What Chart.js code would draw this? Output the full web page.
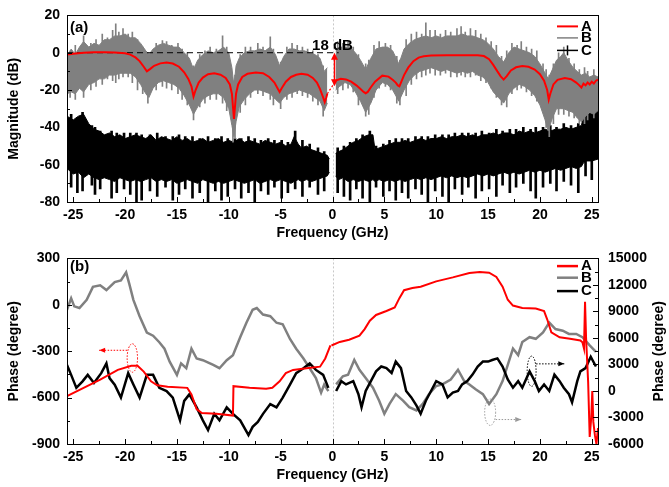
<!DOCTYPE html>
<html>
<head>
<meta charset="utf-8">
<script src="https://cdn.jsdelivr.net/npm/chart.js@4.4.1/dist/chart.umd.min.js"></script>
<style>
html, body { margin: 0; padding: 0; background: #fff; }
#wrap { position: relative; width: 669px; height: 487px; overflow: hidden; }
#c1 { position: absolute; left: 0; top: 0; }
#c2 { position: absolute; left: 0; top: 240px; }
</style>
</head>
<body>
<div id="wrap">
<canvas id="c1" width="669" height="245"></canvas>
<canvas id="c2" width="669" height="247"></canvas>
</div>
<script>
// ---- panel (a): magnitude ----
var magRedLF = [-25.6,-25,-24,-23,-22,-21,-20,-19.5,-19,-18.6,-18.2,-17.9,-17.6,-17.2,-16.6,-16,-15.4,-14.8,-14.3,-13.9,-13.6,-13.4,-13.2,-12.9,-12.5,-12,-11.4,-10.8,-10.3,-9.9,-9.7,-9.5,-9.3,-9.1,-8.7,-8.2,-7.4,-6.7,-6.1,-5.6,-5.3,-5.1,-4.9,-4.5,-4,-3.5,-3,-2.4,-1.9,-1.5,-1.2,-0.9,-0.75,-0.6,-0.5];
var magRedL = [-1,-0.5,0,0.2,0.2,0.1,-0.3,-1,-2.5,-4.5,-7.5,-10,-8.8,-7,-5.7,-5.2,-5.8,-7.5,-10.5,-14,-18,-23.5,-20,-16,-13.3,-11.5,-11,-11.8,-13.5,-17,-22,-35.5,-22,-17,-13,-11.3,-10.6,-11,-13,-16,-19,-21,-19,-15.5,-13,-11.8,-11.3,-11.8,-13.5,-16,-19.5,-24,-26.5,-24,-22];
var magRedRF = [0.35,0.8,1.3,1.8,2.3,2.7,3.0,3.2,3.4,3.7,4.1,4.8,5.4,5.8,6.1,6.3,6.45,6.6,6.9,7.3,7.8,8.3,8.8,9.5,11,12.5,14,14.6,15.1,15.5,15.9,16.2,16.5,16.8,17.2,17.7,18.3,18.9,19.5,20.0,20.4,20.7,20.85,21.0,21.3,21.7,22.4,23.0,23.5,23.8,24.0,24.2,24.4,24.6,24.8,25.0,25.2,25.4,25.6];
var magRedR = [-14.8,-14,-14.3,-15.5,-17.5,-19.5,-21,-21.7,-21,-18.5,-15.5,-12.3,-12.8,-14.5,-16,-17.5,-18,-16,-12,-8,-4.5,-2.6,-1.9,-1.5,-1.3,-1.3,-1.3,-1.8,-3.5,-6.5,-10,-12.5,-14.4,-12.5,-9.5,-7.8,-7.1,-7.5,-9,-11.5,-15,-20,-25.2,-22,-17,-14.5,-13.5,-14.2,-16,-17.5,-18.7,-16.5,-17.5,-16,-17,-15.5,-16.5,-15,-14.5];
var magRedGapF = [-0.5, 0.35];
var magRedGap = [-22, -14.8];

// B: dense core of the noise (upper / lower edge) ...
var magGrayLF = [-25.6,-25.2,-24.8,-24.4,-24.0,-23.5,-23.0,-22.5,-22.0,-21.5,-21.0,-20.5,-20.0,-19.5,-19.0,-18.5,-18.0,-17.7,-17.3,-16.8,-16.3,-15.8,-15.3,-14.8,-14.3,-13.8,-13.4,-13.0,-12.5,-12.0,-11.5,-11.0,-10.5,-10.0,-9.7,-9.5,-9.3,-9.0,-8.5,-8.0,-7.5,-7.0,-6.5,-6.0,-5.5,-5.1,-4.7,-4.2,-3.7,-3.2,-2.7,-2.2,-1.7,-1.2,-0.8,-0.5];
var magGrayLUp = [-3,2,-1,3,6,3,5,4,7,7,9,9,10,8,8,5,1,-1,2,4,5,4,3,3,0,-3,-9,-4,-1,1,0,1,3,0,-8,-18,-7,-3,0,1,1,2,1,3,-1,-7,-2,2,2,1,1,0,-1,-3,-10,-8];
var magGrayLLo = [-22,-21,-22,-19,-21,-17,-16,-14,-14,-12,-12,-11,-11,-11,-13,-17,-22,-24,-19,-16,-15,-16,-17,-19,-23,-28,-33,-29,-25,-23,-22,-22,-24,-30,-39,-45,-37,-29,-25,-22,-20,-20,-21,-22,-25,-27,-24,-22,-21,-20,-21,-22,-24,-26,-31,-27];
var magGrayRF = [0.3,0.7,1.2,1.7,2.2,2.7,3.2,3.7,4.2,4.8,5.3,5.8,6.4,6.9,7.4,7.9,8.4,9.0,9.5,10.0,10.5,11.0,11.5,12.0,12.5,13.0,13.5,14.0,14.5,15.0,15.5,16.0,16.5,17.0,17.5,18.0,18.5,19.0,19.5,20.0,20.5,20.8,21.2,21.6,22.0,22.3,22.7,23.2,23.6,24.0,24.4,24.8,25.2,25.6];
var magGrayRUp = [2,3,3,3,0,-4,-9,-3,2,3,3,1,-6,2,5,7,8,9,8,9,8,9,9,9,10,9,9,8,7,5,2,-2,-5,0,3,2,1,0,-2,-6,-11,-14,-9,-4,-2,0,-4,-8,-10,-12,-11,-13,-12,-13];
var magGrayRLo = [-20,-18,-16,-17,-21,-26,-32,-27,-20,-16,-17,-20,-26,-20,-15,-12,-10,-9,-8,-9,-10,-9,-10,-11,-10,-11,-10,-12,-13,-16,-21,-24,-27,-22,-19,-17,-18,-20,-23,-28,-36,-42,-35,-30,-30,-30,-31,-32,-35,-37,-34,-32,-33,-31];
// ... and its spikes (full extent at single frequencies)
var graySpikeF = [-25.3,-24.8,-24.0,-23.3,-22.8,-22.2,-21.7,-21.2,-20.9,-20.6,-20.2,-19.7,-19.3,-18.8,-18.3,-17.8,-17.0,-16.4,-16.0,-15.5,-14.9,-14.5,-14.0,-13.4,-12.8,-12.3,-11.8,-11.2,-10.6,-10.2,-9.6,-9.4,-8.9,-8.4,-7.9,-7.2,-6.7,-6.0,-5.7,-5.0,-4.4,-3.9,-3.4,-2.9,-2.4,-1.9,-1.4,-0.9,
  0.5,1.0,1.5,2.0,2.5,3.2,3.5,4.0,4.5,5.1,5.6,6.2,6.5,7.1,7.6,8.1,8.6,9.0,9.4,9.9,10.4,10.9,11.4,12.0,12.4,12.8,13.3,13.8,14.3,14.8,15.3,15.8,16.3,16.8,17.3,17.8,18.2,18.7,19.2,19.7,20.3,20.6,20.9,21.3,21.8,22.3,22.8,23.3,23.8,24.3,24.6,25.2];
var graySpikeHi = [1,4,9,5,7,10,8,12,15.5,11,13,10,11,7,3,0,5,6.5,6,4,5,2,0,-7,-1,1,3,2,9,3,-15,-12,-1,3,3,5,3,8.5,2,-5,3,5,4,3,2,1,-1,-7,
  6,5,6,3,-1,-6,-4,4,6,5,4,-2,-4,7,10,11,10,16,12,12,10,12,11,13,14,11,13,12,10,8,6,4,-2,1,5,4,6,3,2,1,-6,-9,-12,-6,0,3,-3,-6,-9,-8,-10,-9];
var graySpikeLo = [-24,-25,-24,-20,-18,-17,-14,-15,-16,-14,-13,-13,-16,-20,-22,-27,-20,-18,-19,-20,-22,-25,-28,-36,-29,-27,-25,-25,-27,-31,-48,-46,-32,-28,-24,-22,-23,-25,-28,-30,-25,-24,-22,-23,-24,-26,-28,-34,
  -22,-20,-19,-21,-28,-34,-33,-24,-19,-18,-20,-27,-28,-23,-17,-14,-13,-12,-11,-12,-12,-11,-13,-13,-12,-13,-13,-12,-15,-16,-19,-24,-28,-29,-22,-20,-19,-21,-23,-26,-31,-40,-45,-38,-33,-33,-34,-35,-38,-38,-36,-35];

// C: dense core ...
var magBlackLF = [-25.6,-25.0,-24.5,-24.0,-23.5,-23.0,-22.5,-22.0,-21.5,-21.0,-20.5,-20.0,-19.5,-19.0,-18.5,-18.0,-17.5,-17.0,-16.5,-16.0,-15.5,-15.0,-14.5,-14.0,-13.5,-13.0,-12.5,-12.0,-11.5,-11.0,-10.5,-10.0,-9.5,-9.0,-8.5,-8.0,-7.5,-7.0,-6.5,-6.0,-5.5,-5.0,-4.5,-4.0,-3.7,-3.3,-3.0,-2.5,-2.0,-1.5,-1.0,-0.5,-0.3];
var magBlackLUp = [-34,-36,-34,-33,-38,-41,-42,-44,-43,-45,-44,-46,-45,-44,-45,-46,-44,-47,-45,-46,-47,-45,-47,-46,-48,-47,-46,-48,-47,-46,-48,-47,-48,-46,-48,-47,-48,-49,-47,-48,-49,-48,-50,-49,-45,-49,-51,-50,-52,-53,-54,-55,-57];
var magBlackLLo = [-62,-65,-64,-67,-65,-67,-68,-67,-68,-69,-67,-68,-69,-68,-69,-68,-67,-69,-68,-69,-68,-70,-69,-68,-69,-70,-68,-69,-70,-69,-70,-69,-68,-69,-70,-69,-68,-70,-69,-68,-69,-68,-69,-70,-69,-68,-69,-68,-69,-68,-67,-66,-64];
var magBlackRF = [0.3,0.6,1.0,1.5,2.0,2.5,3.0,3.5,3.9,4.1,4.5,5.0,5.5,6.0,6.5,7.0,7.5,8.0,8.5,9.0,9.5,10.0,10.5,11.0,11.5,12.0,12.5,13.0,13.5,14.0,14.5,15.0,15.5,16.0,16.5,17.0,17.5,18.0,18.5,19.0,19.5,20.0,20.5,21.0,21.5,22.0,22.5,23.0,23.5,24.0,24.2,24.5,25.0,25.6];
var magBlackRUp = [-54,-53,-52,-50,-48,-47,-45,-44,-44,-52,-51,-50,-49,-48,-48,-47,-48,-47,-46,-47,-46,-46,-45,-46,-45,-45,-44,-45,-44,-45,-44,-44,-43,-44,-43,-43,-44,-42,-43,-42,-43,-42,-41,-42,-41,-41,-40,-41,-40,-39,-34,-33,-32,-31];
var magBlackRLo = [-66,-68,-67,-69,-68,-69,-68,-69,-68,-69,-68,-69,-68,-69,-68,-69,-68,-67,-68,-67,-68,-67,-66,-67,-66,-67,-66,-67,-66,-65,-66,-65,-66,-65,-64,-65,-64,-65,-64,-63,-64,-63,-64,-63,-62,-63,-62,-61,-62,-61,-59,-58,-58,-57];
// ... and its spikes
var blackSpikeF = [-25.2,-24.6,-24.1,-23.2,-22.9,-22.4,-21.3,-20.8,-20.1,-19.5,-18.9,-18.4,-17.6,-16.9,-16.1,-15.4,-14.8,-14.2,-13.5,-12.8,-12.0,-11.3,-10.7,-10.1,-9.4,-8.8,-8.1,-7.5,-6.9,-6.2,-5.6,-4.9,-4.3,-3.6,-2.9,-2.2,-1.4,-0.8,
  0.5,1.1,1.7,2.3,2.9,3.6,4.2,4.9,5.5,6.1,6.7,7.3,8.0,8.6,9.2,9.9,10.6,11.2,11.8,12.5,13.1,13.8,14.4,15.1,15.8,16.4,17.1,17.7,18.4,19.1,19.6,20.3,21.0,21.6,22.3,23.0,23.7,24.4,25.0];
var blackSpikeLo = [-72,-75,-74,-71,-76,-73,-78,-75,-73,-76,-80,-79,-74,-77,-72,-79,-76,-73,-78,-75,-80,-74,-79,-77,-73,-78,-75,-80,-74,-76,-72,-78,-75,-73,-77,-72,-76,-74,
  -75,-77,-79,-73,-78,-80,-72,-77,-74,-79,-75,-78,-73,-76,-80,-74,-77,-80,-73,-76,-72,-78,-74,-73,-77,-71,-75,-72,-70,-74,-78,-72,-70,-74,-69,-71,-75,-66,-68];
var blackSpikeHi = [-33,-35,-32,-39,-40,-42,-42,-43,-43,-43,-43,-44,-44,-43,-45,-45,-44,-45,-45,-46,-45,-46,-45,-46,-46,-46,-45,-46,-47,-46,-47,-47,-48,-42,-47,-49,-51,-53,
  -51,-50,-48,-46,-44,-42,-50,-49,-47,-46,-46,-46,-45,-45,-45,-44,-44,-44,-43,-43,-43,-43,-42,-43,-41,-42,-41,-41,-40,-41,-40,-40,-39,-40,-38,-39,-38,-32,-30];

var refLineF = [-25.6, 0.6];
var refLine = [0, 0];

// ---- panel (b): phase ----
// negative frequencies use the left axis, positive ones the right axis
var phaseALF = [-25.6,-24.0,-22.4,-20.7,-19.4,-18.8,-18.2,-17.5,-16.9,-15.9,-14.0,-13.6,-13.1,-12.6,-11.2,-9.6,-9.55,-8.0,-6.4,-5.8,-5.1,-4.5,-3.8,-2.5,-1.2,-0.7,-0.2];
var phaseAL = [-590,-537,-484,-421,-394,-394,-432,-495,-520,-530,-537,-579,-674,-700,-705,-716,-526,-537,-543,-537,-495,-442,-421,-410,-400,-347,-263];
var phaseARF = [-0.1,0.7,1.6,2.6,3.1,3.6,4.2,5.2,6.0,6.45,6.9,7.7,8.5,10.0,11.6,13.2,14.2,15.1,15.8,16.4,16.9,17.4,18.3,19.6,20.4,20.7,21.1,21.9,22.9,23.9,24.1,24.25,24.35,24.45,24.55,24.65,24.8,24.95,25.05,25.15,25.3,25.45,25.6];
var phaseAR = [5150,5550,5800,6250,7000,7950,8600,9050,9450,10500,11400,11650,11800,12400,12850,13350,13450,13380,12900,11800,10320,9660,9400,9330,9030,8110,6640,6080,5900,5716,5500,4800,10100,6000,3500,1000,-5200,-3000,0,-3500,-5000,-6000,-4200];

var phaseBLF = [-25.6,-25.2,-24.9,-24.4,-23.7,-23.1,-22.4,-21.8,-21.0,-20.4,-19.9,-19.6,-19.2,-18.6,-17.9,-17.3,-16.7,-16.2,-15.7,-15.0,-14.6,-14.1,-13.6,-13.1,-12.5,-11.5,-10.9,-10.2,-9.6,-8.9,-8.3,-7.7,-7.3,-6.7,-6.0,-5.4,-4.8,-4.1,-3.5,-2.8,-2.2,-1.6,-1.1,-0.8,-0.4];
var phaseBL = [-32,42,-10,-21,32,116,126,95,147,158,210,137,32,-74,-179,-200,-242,-284,-368,-453,-379,-410,-284,-347,-358,-389,-410,-358,-326,-210,-116,-32,-21,-63,-74,-116,-126,-221,-284,-347,-410,-474,-568,-516,-558];
var phaseBRF = [0.35,1.0,1.5,2.1,2.6,3.2,3.9,4.5,5.0,5.5,6.1,6.8,7.4,8.1,8.7,9.3,10.0,10.6,11.4,12.1,12.7,13.2,13.8,14.5,15.1,15.8,16.4,16.9,17.4,17.9,18.3,19.0,19.6,20.3,20.9,21.5,22.2,22.8,23.5,24.1,24.8,25.4];
var phaseBR = [743,1664,1848,3506,2400,1480,375,-1100,-2573,-1468,-363,-1100,-1836,-2204,-1468,-363,558,743,1295,2400,1111,743,190,-363,-1468,-363,1111,2953,4795,4058,5532,6085,5900,6637,7743,7006,6822,6453,6453,6085,5164,4427];

var phaseCLF = [-25.6,-25.2,-24.7,-24.1,-23.6,-23.0,-22.3,-21.8,-21.5,-21.0,-20.4,-19.7,-19.2,-18.6,-17.9,-17.3,-16.7,-16.0,-15.4,-14.7,-14.3,-13.8,-13.1,-12.5,-12.0,-11.4,-10.9,-10.2,-9.6,-8.9,-8.1,-7.7,-7.2,-6.7,-6.0,-5.4,-4.8,-4.1,-3.5,-2.8,-2.2,-1.6,-0.9,-0.4];
var phaseCL = [-389,-453,-537,-495,-453,-505,-442,-379,-474,-516,-600,-442,-516,-600,-453,-453,-537,-558,-600,-747,-621,-579,-663,-747,-810,-705,-747,-663,-705,-747,-842,-789,-758,-705,-642,-663,-600,-516,-442,-410,-379,-421,-453,-537];
var phaseCRF = [0.35,0.85,1.3,2.0,2.5,2.8,3.2,3.7,4.2,4.7,5.2,5.7,6.1,6.6,7.1,7.6,8.1,8.5,9.0,9.5,10.0,10.6,11.1,11.6,12.1,12.5,13.0,13.5,14.0,14.5,15.0,15.4,15.9,16.4,16.9,17.4,17.9,18.3,19.0,19.5,19.9,20.4,20.9,21.4,21.9,22.3,22.8,23.1,23.6,23.9,24.4,24.9,25.4];
var phaseCR = [0,1111,743,1111,-363,-1836,0,1111,2216,2769,2585,2032,3322,2585,0,-731,-1652,-2573,-1100,0,1111,743,-731,-178,0,743,1111,1848,2769,3322,3322,3506,3690,2769,1295,375,1111,375,2216,1111,0,743,0,1848,1111,375,-363,-1284,1111,2216,2585,3875,2769];

var seriesNames = ['A', 'B', 'C'];
var seriesColors = ['#ff0000', '#808080', '#000000'];

Chart.defaults.font.family = "'Liberation Sans', Arial, sans-serif";
Chart.defaults.font.size = 14;
Chart.defaults.font.weight = 'bold';
Chart.defaults.color = '#000';

function pts(xs, ys) {
  return xs.map(function(x, i) { return {x: x, y: ys[i]}; });
}

function line(xs, ys, color, width, order, extra) {
  var d = {data: pts(xs, ys), borderColor: color, backgroundColor: color, borderWidth: width,
           pointRadius: 0, tension: 0, fill: false, order: order};
  for (var k in extra) d[k] = extra[k];
  return d;
}

// noise spikes as thin floating bars
function spikes(xs, lo, hi, color, order, thick) {
  return {
    type: 'bar', grouped: false, barThickness: thick, order: order,
    backgroundColor: color, borderWidth: 0,
    data: xs.map(function(x, i) { return {x: x, y: [lo[i], hi[i]]}; })
  };
}

function freqAxis() {
  return {
    type: 'linear', min: -25.6, max: 25.6, offset: false,
    ticks: {stepSize: 5, includeBounds: false, padding: 5, callback: function(v) { return String(v); }},
    grid: {display: false, drawTicks: false, offset: false},
    border: {display: false},
    title: {display: true, text: 'Frequency (GHz)', padding: 0},
    afterFit: function(s) { s.height = 40; }
  };
}

function valueAxis(min, max, step, pos, width, title) {
  return {
    type: 'linear', position: pos, min: min, max: max, beginAtZero: false,
    ticks: {stepSize: step, padding: pos === 'left' ? 7 : 10, callback: function(v) { return String(v); }},
    grid: {display: false, drawTicks: false},
    border: {display: false},
    title: {display: !!title, text: title || '', padding: {top: 6, bottom: 0}},
    afterFit: function(s) { s.width = width; }
  };
}

// frame + small inward tick marks
var framePlugin = {
  id: 'frame',
  afterDraw: function(chart) {
    var ctx = chart.ctx, a = chart.chartArea;
    ctx.save();
    ctx.strokeStyle = '#000';
    ctx.lineWidth = 1;
    ctx.strokeRect(Math.round(a.left) + 0.5, Math.round(a.top) + 0.5, Math.round(a.right - a.left), Math.round(a.bottom - a.top));
    ctx.beginPath();
    Object.keys(chart.scales).forEach(function(id) {
      var s = chart.scales[id];
      var vals = s.ticks.map(function(t) { return t.value; });
      var step = vals.length > 1 ? vals[1] - vals[0] : 0;
      vals.forEach(function(v) {
        [v, v + step / 2].forEach(function(tv, j) {
          if (tv < s.min || tv > s.max) return;
          var len = j === 0 ? 5 : 3;
          var p = Math.round(s.getPixelForValue(tv)) + 0.5;
          if (id === 'x') { ctx.moveTo(p, a.bottom); ctx.lineTo(p, a.bottom - len); }
          else if (s.position === 'left') { ctx.moveTo(a.left, p); ctx.lineTo(a.left + len, p); }
          else { ctx.moveTo(a.right, p); ctx.lineTo(a.right - len, p); }
        });
      });
    });
    ctx.stroke();
    ctx.restore();
  }
};

function zeroLine(chart) {
  var ctx = chart.ctx, a = chart.chartArea;
  var x0 = Math.round(chart.scales.x.getPixelForValue(0)) + 0.5;
  ctx.save();
  ctx.strokeStyle = '#c8c8c8';
  ctx.lineWidth = 1;
  ctx.setLineDash([2, 2]);
  ctx.beginPath();
  ctx.moveTo(x0, a.top);
  ctx.lineTo(x0, a.bottom);
  ctx.stroke();
  ctx.restore();
}

function arrowHead(ctx, x, y, dir, len, half) {
  ctx.beginPath();
  if (dir === 'up') { ctx.moveTo(x, y); ctx.lineTo(x - half, y + len); ctx.lineTo(x + half, y + len); }
  if (dir === 'down') { ctx.moveTo(x, y); ctx.lineTo(x - half, y - len); ctx.lineTo(x + half, y - len); }
  if (dir === 'left') { ctx.moveTo(x, y); ctx.lineTo(x + len, y - half); ctx.lineTo(x + len, y + half); }
  if (dir === 'right') { ctx.moveTo(x, y); ctx.lineTo(x - len, y - half); ctx.lineTo(x - len, y + half); }
  ctx.closePath();
  ctx.fill();
}

function drawLegend(ctx, a, rows) {
  ctx.save();
  ctx.font = "bold 15px 'Liberation Sans', Arial, sans-serif";
  ctx.textBaseline = 'middle';
  ctx.textAlign = 'left';
  rows.forEach(function(r, i) {
    var y = a.top + r.dy;
    ctx.strokeStyle = seriesColors[i];
    ctx.lineWidth = r.w;
    ctx.beginPath();
    ctx.moveTo(a.right - 41, y);
    ctx.lineTo(a.right - 20, y);
    ctx.stroke();
    if (r.bar) {
      ctx.lineWidth = 1.5;
      ctx.beginPath();
      ctx.moveTo(a.right - 30.5, y - 5);
      ctx.lineTo(a.right - 30.5, y + 5);
      ctx.stroke();
    }
    ctx.fillStyle = '#000';
    ctx.fillText(seriesNames[i], a.right - 17, y);
  });
  ctx.restore();
}

var annotA = {
  id: 'annotA',
  beforeDatasetsDraw: function(chart) { zeroLine(chart); },
  afterDraw: function(chart) {
    var ctx = chart.ctx, a = chart.chartArea, x = chart.scales.x, y = chart.scales.y;
    ctx.save();
    ctx.fillStyle = '#000';
    ctx.font = "bold 15px 'Liberation Sans', Arial, sans-serif";
    ctx.textBaseline = 'middle';
    ctx.textAlign = 'left';
    ctx.fillText('(a)', a.left + 3, a.top + 12);
    ctx.textAlign = 'center';
    ctx.fillText('18 dB', x.getPixelForValue(0), y.getPixelForValue(3.6));
    // double arrow 0 dB -> -18 dB
    var ax = Math.round(x.getPixelForValue(0.1)) + 0.5;
    var yt = y.getPixelForValue(0), yb = y.getPixelForValue(-18);
    ctx.strokeStyle = '#ff0000';
    ctx.fillStyle = '#ff0000';
    ctx.lineWidth = 1.5;
    ctx.beginPath();
    ctx.moveTo(ax, yt + 4);
    ctx.lineTo(ax, yb - 4);
    ctx.stroke();
    arrowHead(ctx, ax, yt, 'up', 7, 3.5);
    arrowHead(ctx, ax, yb, 'down', 7, 3.5);
    ctx.restore();
    drawLegend(ctx, a, [{dy: 11, w: 2}, {dy: 22.5, w: 1.5}, {dy: 35, w: 1.5, bar: true}]);
  }
};

function ellipseMark(ctx, xs, ys, cx, cy, rx, ry, ax0, ax1, ay, color, dir) {
  var px = xs.getPixelForValue(cx), py = ys.getPixelForValue(cy);
  var prx = Math.abs(xs.getPixelForValue(cx + rx) - px);
  var pry = Math.abs(ys.getPixelForValue(cy + ry) - py);
  var y0 = ys.getPixelForValue(ay);
  var x0 = xs.getPixelForValue(ax0), x1 = xs.getPixelForValue(ax1);
  ctx.save();
  ctx.strokeStyle = color;
  ctx.fillStyle = color;
  ctx.lineWidth = 1;
  ctx.setLineDash([1.5, 1.5]);
  ctx.beginPath();
  ctx.ellipse(px, py, prx, pry, 0, 0, Math.PI * 2);
  ctx.stroke();
  ctx.beginPath();
  ctx.moveTo(x0, y0);
  ctx.lineTo(x1, y0);
  ctx.stroke();
  ctx.setLineDash([]);
  arrowHead(ctx, x1, y0, dir, 6, 2.5);
  ctx.restore();
}

var annotB = {
  id: 'annotB',
  beforeDatasetsDraw: function(chart) { zeroLine(chart); },
  afterDraw: function(chart) {
    var ctx = chart.ctx, a = chart.chartArea, x = chart.scales.x, y = chart.scales.y, y1 = chart.scales.y1;
    ctx.save();
    ctx.fillStyle = '#000';
    ctx.font = "bold 15px 'Liberation Sans', Arial, sans-serif";
    ctx.textBaseline = 'middle';
    ctx.textAlign = 'left';
    ctx.fillText('(b)', a.left + 3, a.top + 8);
    // right axis title, read bottom to top like the left one
    ctx.font = "bold 14px 'Liberation Sans', Arial, sans-serif";
    ctx.textAlign = 'center';
    ctx.translate(659, (a.top + a.bottom) / 2);
    ctx.rotate(-Math.PI / 2);
    ctx.fillText('Phase (degree)', 0, 0);
    ctx.restore();
    ellipseMark(ctx, x, y, -19.3, -344, 0.5, 92, -19.8, -22.5, -294, '#ff0000', 'left');
    ellipseMark(ctx, x, y1, 19.2, 2237, 0.43, 1713, 19.63, 22.35, 3066, '#000000', 'right');
    ellipseMark(ctx, x, y1, 15.2, -2404, 0.53, 1490, 15.73, 18.2, -3232, '#999999', 'right');
    drawLegend(ctx, a, [{dy: 7.7, w: 2.5}, {dy: 19.3, w: 2.5}, {dy: 32.7, w: 2.5}]);
  }
};

new Chart(document.getElementById('c1'), {
  type: 'line',
  data: {
    datasets: [
      line(magRedLF, magRedL, '#ff0000', 2, 0),
      line(magRedRF, magRedR, '#ff0000', 2, 0),
      line(magRedGapF, magRedGap, '#ff0000', 1.2, 0, {borderDash: [2, 2]}),
      line(refLineF, refLine, '#000000', 1, 1, {borderDash: [6, 4]}),
      line(magGrayLF, magGrayLLo, '#808080', 1, 2),
      line(magGrayLF, magGrayLUp, '#808080', 1, 2, {fill: '-1'}),
      line(magGrayRF, magGrayRLo, '#808080', 1, 2),
      line(magGrayRF, magGrayRUp, '#808080', 1, 2, {fill: '-1'}),
      spikes(graySpikeF, graySpikeLo, graySpikeHi, '#808080', 2, 1),
      line(magBlackLF, magBlackLLo, '#000000', 1, 3),
      line(magBlackLF, magBlackLUp, '#000000', 1, 3, {fill: '-1'}),
      line(magBlackRF, magBlackRLo, '#000000', 1, 3),
      line(magBlackRF, magBlackRUp, '#000000', 1, 3, {fill: '-1'}),
      spikes(blackSpikeF, blackSpikeLo, blackSpikeHi, '#000000', 3, 2)
    ]
  },
  options: {
    responsive: false,
    animation: false,
    events: [],
    layout: {padding: {left: 0, right: 71, top: 10, bottom: 3}},
    plugins: {legend: {display: false}, tooltip: {enabled: false}},
    scales: {
      x: freqAxis(),
      y: valueAxis(-80, 20, 20, 'left', 67, 'Magnitude (dB)')
    }
  },
  plugins: [annotA, framePlugin]
});

new Chart(document.getElementById('c2'), {
  type: 'line',
  data: {
    datasets: [
      line(phaseALF, phaseAL, '#ff0000', 2, 0, {yAxisID: 'y'}),
      line(phaseARF, phaseAR, '#ff0000', 2, 0, {yAxisID: 'y1'}),
      line(phaseCLF, phaseCL, '#000000', 2.5, 1, {yAxisID: 'y'}),
      line(phaseCRF, phaseCR, '#000000', 2.5, 1, {yAxisID: 'y1'}),
      line(phaseBLF, phaseBL, '#808080', 2.5, 2, {yAxisID: 'y'}),
      line(phaseBRF, phaseBR, '#808080', 2.5, 2, {yAxisID: 'y1'})
    ]
  },
  options: {
    responsive: false,
    animation: false,
    events: [],
    layout: {padding: {left: 0, right: 0, top: 14, bottom: 3}},
    plugins: {legend: {display: false}, tooltip: {enabled: false}},
    scales: {
      x: freqAxis(),
      y: valueAxis(-900, 300, 300, 'left', 67, 'Phase (degree)'),
      y1: valueAxis(-6000, 15000, 3000, 'right', 71, '')
    }
  },
  plugins: [annotB, framePlugin]
});
</script>
</body>
</html>
